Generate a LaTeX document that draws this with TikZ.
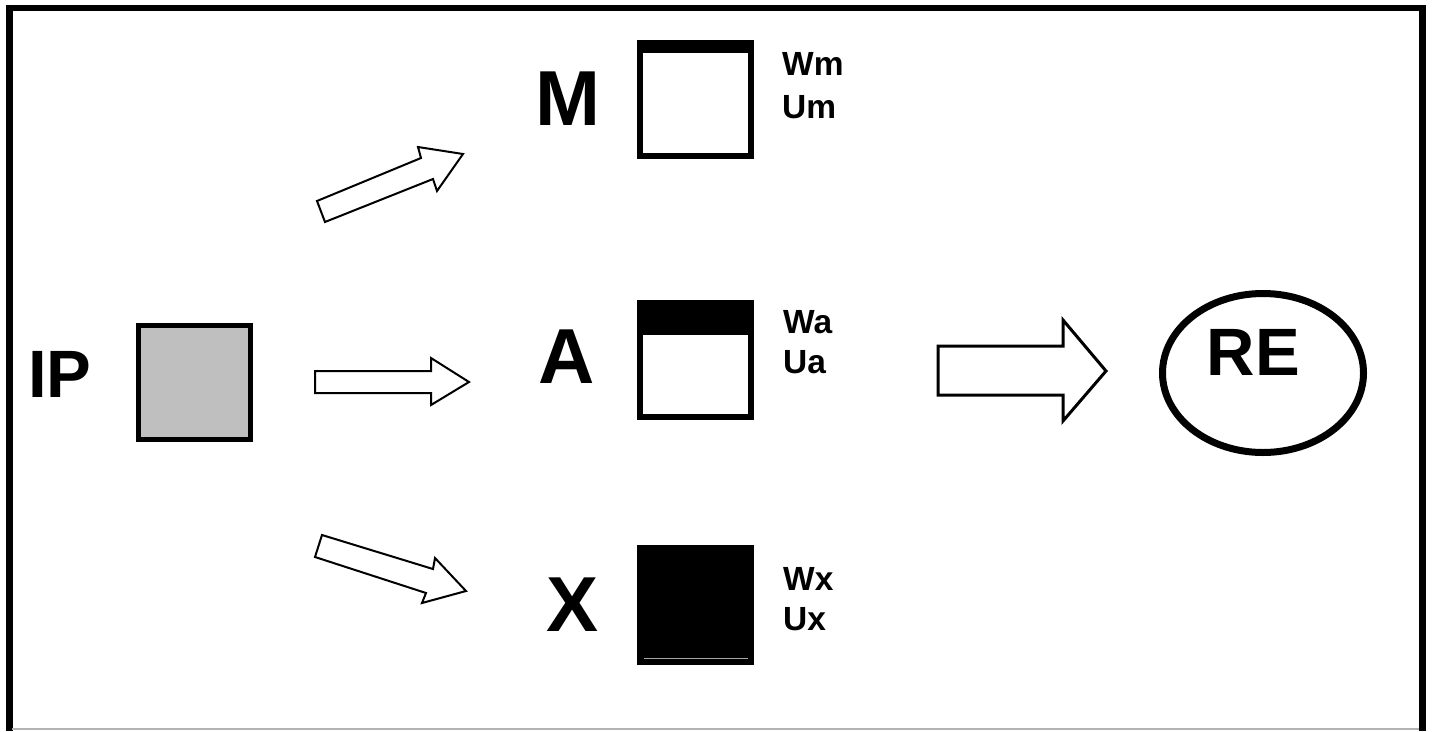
\documentclass[tikz,border=0pt]{standalone}
\usepackage{fontspec}
\setmainfont{Liberation Sans}
\begin{document}
\begin{tikzpicture}[x=1pt,y=-1pt,
  big/.style={font=\bfseries\fontsize{78}{80}\selectfont, inner sep=0pt, anchor=base},
  mid/.style={font=\bfseries\fontsize{67}{70}\selectfont, inner sep=0pt, anchor=base},
  small/.style={font=\bfseries\fontsize{33.5}{35}\selectfont, inner sep=0pt, anchor=base west},
  blockarrow/.style={draw=black, fill=white, line width=2pt, line join=miter},
  frameline/.style={line width=6.5pt}]
\useasboundingbox (0,0) rectangle (1432,731);
% frame
\draw[frameline] (9.5,731) -- (9.5,8) -- (1422.5,8) -- (1422.5,731);
\draw[gray!60, line width=1.5pt] (12,729) -- (1419,729);

% IP
\node[mid] (ip) at (60,397) {IP};
\draw[line width=5pt, fill=black!25] (138.5,325.5) rectangle (250.5,439.5);
\coordinate (ipbox) at (194.5,382.5);

% M
\node[big] (m) at (567.5,125) {M};
\fill[black] (637,40) rectangle (754,159);
\fill[white] (643,53) rectangle (748,153);
\node[small] (wm) at (782,75) {Wm};
\node[small] (um) at (782,118) {Um};

% A
\node[big] (a) at (566.5,383) {A};
\fill[black] (637,300) rectangle (754,420);
\fill[white] (643,335) rectangle (748,414);
\node[small] (wa) at (783,333) {Wa};
\node[small] (ua) at (783,373) {Ua};

% X
\node[big] (x) at (572.5,631) {X};
\fill[black] (637,545) rectangle (754,665);
\draw[gray!70, line width=1pt] (644,658) -- (748,658);
\node[small] (wx) at (783,590) {Wx};
\node[small] (ux) at (783,630) {Ux};

% block arrows
\draw[blockarrow] (317,201) -- (421,158) -- (418,147) -- (463,154) -- (437,191) -- (433,179) -- (325,222) -- cycle;
\draw[blockarrow] (315,371) -- (431,371) -- (431,358) -- (469,382) -- (431,405) -- (431,393) -- (315,393) -- cycle;
\draw[blockarrow] (322,535) -- (433,569) -- (435,558) -- (466,591) -- (422,603) -- (426,593) -- (315,557) -- cycle;
\draw[blockarrow, line width=3pt] (938,346) -- (1063,346) -- (1063,320) -- (1106,371) -- (1063,421) -- (1063,395) -- (938,395) -- cycle;

% RE
\draw[line width=7pt] (1263,373) ellipse [x radius=100.5, y radius=79.5];
\node[mid] (re) at (1253.5,375) {RE};
\end{tikzpicture}
\end{document}
